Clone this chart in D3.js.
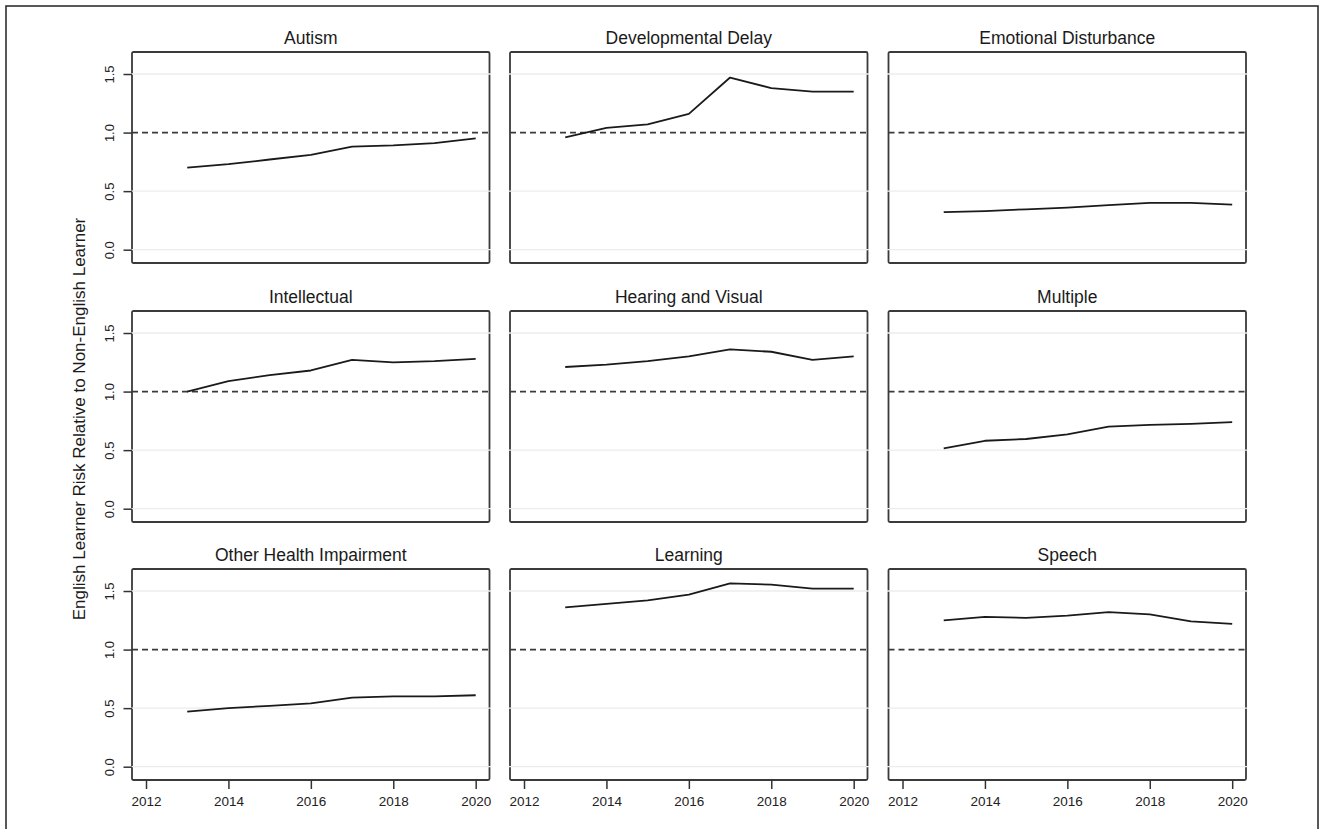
<!DOCTYPE html>
<html>
<head>
<meta charset="utf-8">
<script src="https://cdn.jsdelivr.net/npm/d3@7"></script>
<style>
  html, body { margin: 0; padding: 0; background: #fff; }
  svg { display: block; font-family: "Liberation Sans", Arial, Helvetica, sans-serif; }
</style>
</head>
<body>
<svg id="chart" width="1321" height="829"></svg>
<script>
// Years observed in every panel
const years = [2013, 2014, 2015, 2016, 2017, 2018, 2019, 2020];

// Disability categories, in panel order (row by row)
const categories = [
  "Autism", "Developmental Delay", "Emotional Disturbance",
  "Intellectual", "Hearing and Visual", "Multiple",
  "Other Health Impairment", "Learning", "Speech"
];

// Risk ratio of English learners vs. non-English learners, by year
const autism               = [0.70, 0.73, 0.77, 0.81, 0.88, 0.89, 0.91, 0.95];
const developmentalDelay   = [0.96, 1.04, 1.07, 1.16, 1.47, 1.38, 1.35, 1.35];
const emotionalDisturbance = [0.32, 0.33, 0.345, 0.36, 0.38, 0.40, 0.40, 0.385];
const intellectual         = [1.00, 1.09, 1.14, 1.18, 1.27, 1.25, 1.26, 1.28];
const hearingVisual        = [1.21, 1.23, 1.26, 1.30, 1.36, 1.34, 1.27, 1.30];
const multiple             = [0.515, 0.58, 0.595, 0.635, 0.70, 0.715, 0.725, 0.74];
const otherHealth          = [0.47, 0.50, 0.52, 0.54, 0.59, 0.60, 0.60, 0.61];
const learning             = [1.36, 1.39, 1.42, 1.47, 1.565, 1.555, 1.52, 1.52];
const speech               = [1.25, 1.28, 1.27, 1.29, 1.32, 1.30, 1.24, 1.22];

const seriesValues = [
  autism, developmentalDelay, emotionalDisturbance,
  intellectual, hearingVisual, multiple,
  otherHealth, learning, speech
];

// Axis ticks and the parity reference line
const xTickValues = [2012, 2014, 2016, 2018, 2020];
const yTickValues = [0, 0.5, 1.0, 1.5];
const referenceValue = 1.0;
const yAxisTitle = "English Learner Risk Relative to Non-English Learner";

// Layout
const colLeft = [132, 510, 888.5];
const rowTop = [52, 311, 569];
const panelW = 357.5;
const panelH = 211;

const svg = d3.select("#chart");

// Outer figure border (open at the bottom)
svg.append("path")
  .attr("d", "M6,835 L6,6 L1318,6 L1318,835")
  .attr("fill", "none")
  .attr("stroke", "#222")
  .attr("stroke-width", 1.5);

const x = d3.scaleLinear().domain([2011.66, 2020.335]).range([0, panelW]);
const y = d3.scaleLinear().domain([-0.1136, 1.688]).range([panelH, 0]);

const line = d3.line()
  .x(d => x(d.year))
  .y(d => y(d.value));

categories.forEach((name, i) => {
  const col = i % 3, row = Math.floor(i / 3);
  const g = svg.append("g")
    .attr("transform", `translate(${colLeft[col]},${rowTop[row]})`);

  // Plot frame
  g.append("rect")
    .attr("x", 0).attr("y", 0)
    .attr("width", panelW).attr("height", panelH)
    .attr("rx", 1.5)
    .attr("fill", "#fff")
    .attr("stroke", "#3a3a3a")
    .attr("stroke-width", 1.8);

  // Light horizontal gridlines, running over the frame edges
  g.selectAll("line.grid")
    .data(yTickValues.filter(v => v !== referenceValue))
    .join("line")
    .attr("class", "grid")
    .attr("x1", -1.5).attr("x2", panelW + 1.5)
    .attr("y1", d => y(d)).attr("y2", d => y(d))
    .attr("stroke", "#ececec")
    .attr("stroke-width", 1.3);

  // Dashed parity line
  g.append("line")
    .attr("x1", 0).attr("x2", panelW)
    .attr("y1", y(referenceValue)).attr("y2", y(referenceValue))
    .attr("stroke", "#3a3a3a")
    .attr("stroke-width", 1.8)
    .attr("stroke-dasharray", "6,4");

  // Series line
  const pts = years.map((yr, k) => ({ year: yr, value: seriesValues[i][k] }));
  g.append("path")
    .datum(pts)
    .attr("d", line)
    .attr("fill", "none")
    .attr("stroke", "#1a1a1a")
    .attr("stroke-width", 1.8)
    .attr("stroke-linejoin", "round");

  // Panel title
  g.append("text")
    .attr("x", panelW / 2)
    .attr("y", -8.5)
    .attr("text-anchor", "middle")
    .attr("font-size", 17.5)
    .attr("fill", "#1a1a1a")
    .text(name);

  // Y axis on the first column
  if (col === 0) {
    const ya = g.append("g")
      .call(d3.axisLeft(y).tickValues(yTickValues).tickFormat(d3.format(".1f")).tickSize(8.5));
    ya.select(".domain").remove();
    ya.selectAll(".tick line").attr("stroke", "#333").attr("stroke-width", 1.5);
    ya.selectAll(".tick text")
      .attr("transform", "rotate(-90)")
      .attr("x", 0)
      .attr("y", -18)
      .attr("dy", 0)
      .attr("text-anchor", "middle")
      .attr("font-size", 13)
      .attr("fill", "#222");
  }

  // X axis on the bottom row
  if (row === 2) {
    const xa = g.append("g")
      .attr("transform", `translate(0,${panelH})`)
      .call(d3.axisBottom(x).tickValues(xTickValues).tickFormat(d3.format("d")).tickSize(9));
    xa.select(".domain").remove();
    xa.selectAll(".tick line").attr("stroke", "#333").attr("stroke-width", 1.5);
    xa.selectAll(".tick text")
      .attr("y", 16)
      .attr("dy", "0.71em")
      .attr("font-size", 13.5)
      .attr("fill", "#222");
  }
});

// Shared y-axis title
svg.append("text")
  .attr("transform", "translate(85,419) rotate(-90)")
  .attr("text-anchor", "middle")
  .attr("font-size", 17)
  .attr("fill", "#1a1a1a")
  .text(yAxisTitle);
</script>
</body>
</html>
